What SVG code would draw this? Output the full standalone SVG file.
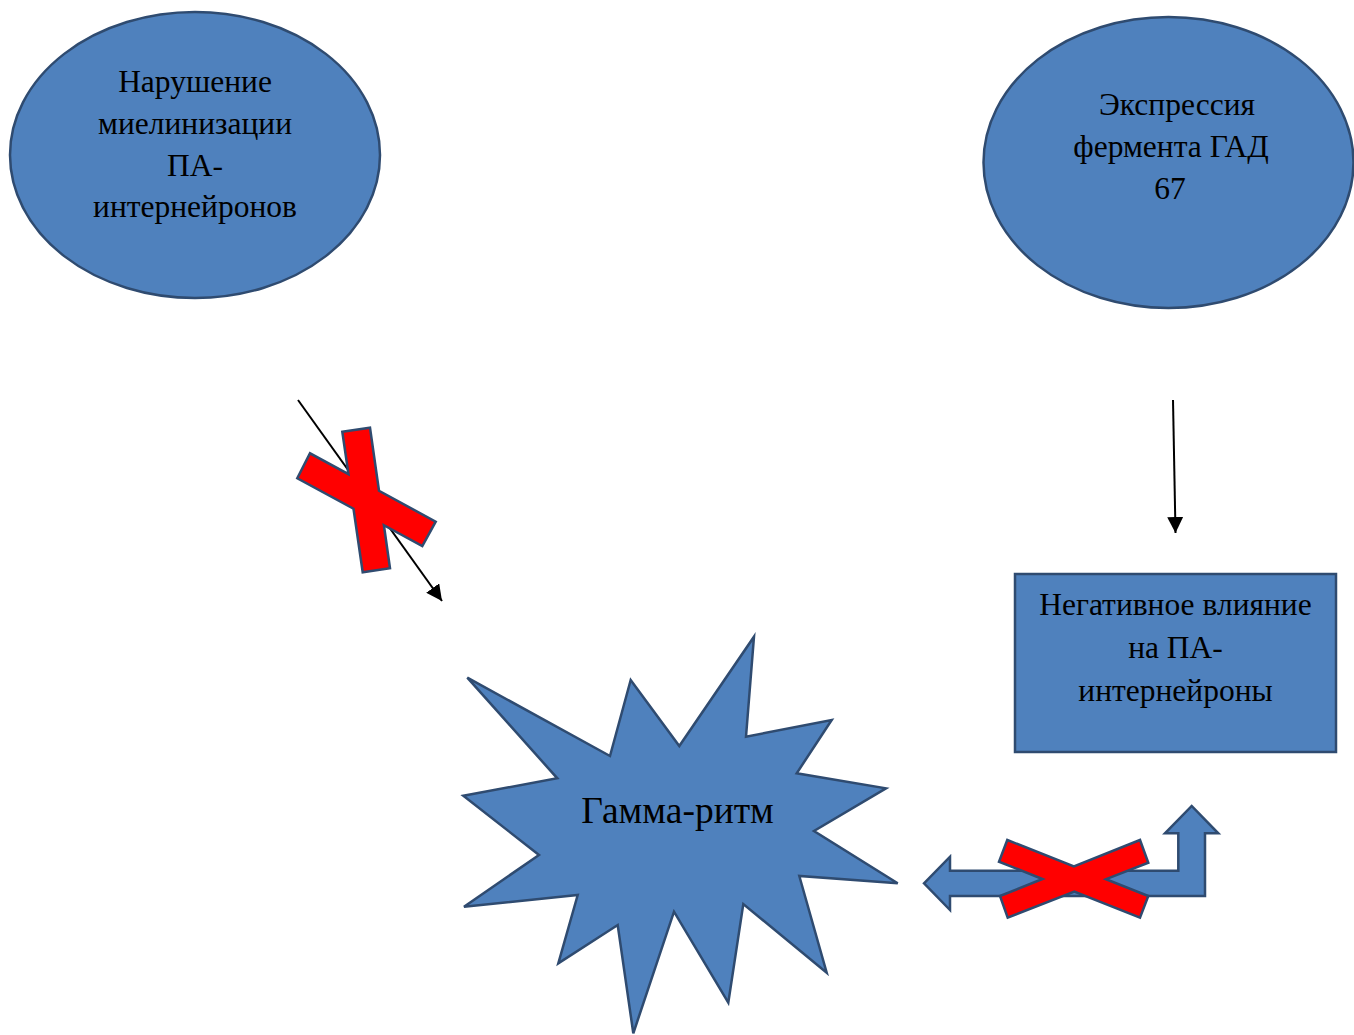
<svg xmlns="http://www.w3.org/2000/svg" width="1354" height="1035" viewBox="0 0 1354 1035">
<defs>
<style>
.node{fill:#4F81BD;stroke:#2F4B70;stroke-width:2.5}
.cross{fill:#FF0000;stroke:#2F4B70;stroke-width:2.5;stroke-linejoin:miter}
.lbl{font-family:"Liberation Serif","Times New Roman",serif;font-size:31.5px;fill:#000;text-anchor:middle}
.big{font-size:37.5px}
.conn{stroke:#000;stroke-width:2;fill:none}
</style>
<marker id="ah" viewBox="0 0 8 8" refX="8" refY="4" markerWidth="8" markerHeight="8" orient="auto" markerUnits="strokeWidth">
<path d="M0,0 L8,4 L0,8 z" fill="#000"/>
</marker>
</defs>
<rect width="1354" height="1035" fill="#fff"/>
<g id="connectors">
<line class="conn" x1="298" y1="400" x2="442" y2="601" marker-end="url(#ah)"/>
<line class="conn" x1="1173" y1="400" x2="1175.5" y2="533" marker-end="url(#ah)"/>
<polygon id="bent-arrow" class="node" points="924,883.3 950,856.7 950,870.7 1178.3,870.7 1178.3,833.3 1165,833.3 1191.7,806 1218.3,833.3 1205,833.3 1205,896 950,896 950,910"/>
</g>
<g id="node-myelin">
<ellipse class="node" cx="195" cy="155" rx="185" ry="143"/>
<text class="lbl" x="195" y="92">Нарушение</text>
<text class="lbl" x="195" y="134">миелинизации</text>
<text class="lbl" x="195" y="175.5">ПА-</text>
<text class="lbl" x="195" y="217">интернейронов</text>
</g>
<g id="node-gad">
<ellipse class="node" cx="1168.5" cy="162.5" rx="185" ry="145.5"/>
<text class="lbl" x="1177" y="114.5">Экспрессия</text>
<text class="lbl" x="1171" y="156.5">фермента ГАД</text>
<text class="lbl" x="1170" y="198.5">67</text>
</g>
<g id="node-negative">
<rect class="node" x="1015" y="574" width="321" height="178"/>
<text class="lbl" x="1175.5" y="614.5">Негативное влияние</text>
<text class="lbl" x="1175.5" y="657.5">на ПА-</text>
<text class="lbl" x="1175.5" y="701">интернейроны</text>
</g>
<g id="node-gamma">
<polygon class="node" points="467.3,677.7 610,756 630.7,680 679.3,746 754,636.7 746,736.7 831.7,720 796.7,773.3 886,788.3 814,831 897.7,883.3 799.3,876 826.7,972.7 743.3,904 728.3,1002.7 674,911.7 633.3,1033.3 617.7,925 558.3,963.3 577.7,895 464,906.7 539,855 463.3,795.7 557.3,778.3"/>
<text class="lbl big" x="677.5" y="823">Гамма-ритм</text>
</g>
<g id="cross-left">
<polygon class="cross" points="342.3,431.7 370,427.7 379,490.8 435.7,521.7 422.3,546 383.9,525.2 390,568.3 362.7,572.3 353.5,508.7 297.3,478.3 310,453.3 348.5,474.2"/>
</g>
<g id="cross-right">
<polygon class="cross" points="1007.3,840 1073.9,866.5 1140,840 1148.3,862.7 1106,879.2 1148.3,896 1140,917.7 1074.3,891.6 1007.7,917.7 1000,896 1042.5,879 999,861.7"/>
</g>
</svg>
